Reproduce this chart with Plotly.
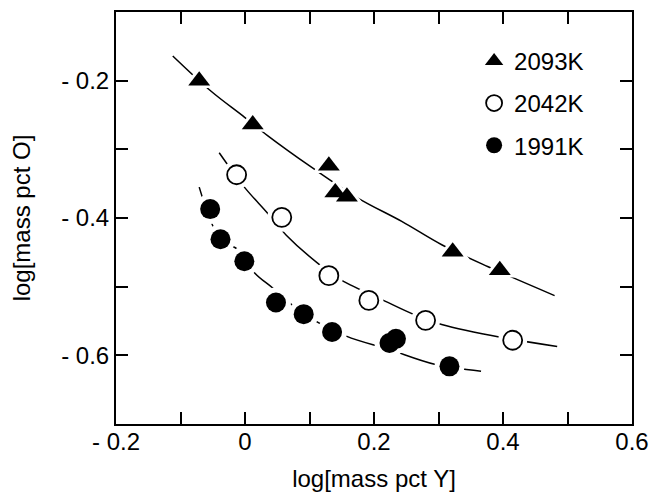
import plotly.graph_objects as go

# ---- data ----
x_2093 = [-0.071, 0.012, 0.130, 0.140, 0.158, 0.322, 0.395]
y_2093 = [-0.200, -0.264, -0.324, -0.363, -0.369, -0.449, -0.476]

x_2042 = [-0.013, 0.057, 0.130, 0.192, 0.280, 0.415]
y_2042 = [-0.337, -0.399, -0.484, -0.520, -0.549, -0.578]

x_1991 = [-0.054, -0.038, -0.001, 0.048, 0.091, 0.135, 0.224, 0.234, 0.317]
y_1991 = [-0.387, -0.431, -0.463, -0.523, -0.540, -0.566, -0.582, -0.576, -0.616]

# fitted curves
cx_2093 = [-0.112, -0.053, -0.001, 0.035, 0.103, 0.175, 0.243, 0.305, 0.377, 0.480]
cy_2093 = [-0.164, -0.215, -0.253, -0.280, -0.326, -0.371, -0.405, -0.439, -0.471, -0.513]

cx_2042 = [-0.040, -0.001, 0.035, 0.064, 0.113, 0.149, 0.217, 0.263, 0.305, 0.398, 0.484]
cy_2042 = [-0.305, -0.355, -0.393, -0.425, -0.466, -0.490, -0.521, -0.541, -0.555, -0.574, -0.587]

cx_1991 = [-0.071, -0.038, -0.011, 0.015, 0.043, 0.090, 0.157, 0.222, 0.294, 0.366]
cy_1991 = [-0.355, -0.431, -0.446, -0.480, -0.502, -0.539, -0.572, -0.591, -0.613, -0.623]

labels = ["2093K", "2042K", "1991K"]

x_tickvals = [-0.2, 0, 0.2, 0.4, 0.6]
x_ticktext = ["- 0.2", "0", "0.2", "0.4", "0.6"]
y_tickvals = [-0.2, -0.4, -0.6]
y_ticktext = ["- 0.2", "- 0.4", "- 0.6"]

FONT = "Liberation Sans, Arial, Helvetica, sans-serif"
FS = 24

fig = go.Figure()

series = [
    (x_2093, y_2093, cx_2093, cy_2093, labels[0], "triangle-up", 19, "black", 0),
    (x_2042, y_2042, cx_2042, cy_2042, labels[1], "circle", 19, "white", 1.8),
    (x_1991, y_1991, cx_1991, cy_1991, labels[2], "circle", 20, "black", 0),
]

# curves
for xs, ys, cx, cy, name, sym, size, fill, lw in series:
    fig.add_trace(go.Scatter(x=cx, y=cy, mode="lines", line=dict(color="black", width=1.5, shape="spline"),
                             showlegend=False, hoverinfo="skip"))
# white halos (gap in the line around each marker)
for xs, ys, cx, cy, name, sym, size, fill, lw in series:
    fig.add_trace(go.Scatter(x=xs, y=ys, mode="markers",
                             marker=dict(symbol=sym, size=size + 10, color="white", line=dict(width=0)),
                             showlegend=False, hoverinfo="skip"))
# markers
for i, (xs, ys, cx, cy, name, sym, size, fill, lw) in enumerate(series):
    fig.add_trace(go.Scatter(x=xs, y=ys, mode="markers", name=name, legendgroup=name,
                             marker=dict(symbol=sym, size=size, color=fill,
                                         line=dict(color="black", width=lw))))

axis_common = dict(
    showline=True, linecolor="black", linewidth=2, mirror="allticks",
    ticks="inside", ticklen=12, tickwidth=1.5, tickcolor="black",
    showgrid=False, zeroline=False, automargin=False,
    tickfont=dict(family=FONT, size=FS, color="black"),
    title_font=dict(family=FONT, size=FS, color="black"),
)

fig.update_xaxes(range=[-0.2, 0.6], tickmode="array", tickvals=x_tickvals, ticktext=x_ticktext,
                 minor=dict(dtick=0.1, tick0=0, ticks="inside", ticklen=12, tickwidth=1.5, tickcolor="black"),
                 ticklabelstandoff=-5,
                 title=dict(text="log[mass pct Y]", standoff=16), **axis_common)
fig.update_yaxes(range=[-0.7, -0.1], tickmode="array", tickvals=y_tickvals, ticktext=y_ticktext,
                 minor=dict(dtick=0.1, tick0=0, ticks="inside", ticklen=12, tickwidth=1.5, tickcolor="black"),
                 title=dict(text="log[mass pct O]", standoff=25), **axis_common)

fig.update_layout(
    width=657, height=488,
    margin=dict(l=108, r=33, t=4, b=72, autoexpand=False),
    plot_bgcolor="white", paper_bgcolor="white",
    font=dict(family=FONT, size=FS, color="black"),
    legend=dict(x=0.694, y=0.935, xanchor="left", yanchor="top", bgcolor="rgba(0,0,0,0)",
                font=dict(family=FONT, size=FS, color="black"), tracegroupgap=8,
                traceorder="grouped"),
)

fig.write_html("out.html")
